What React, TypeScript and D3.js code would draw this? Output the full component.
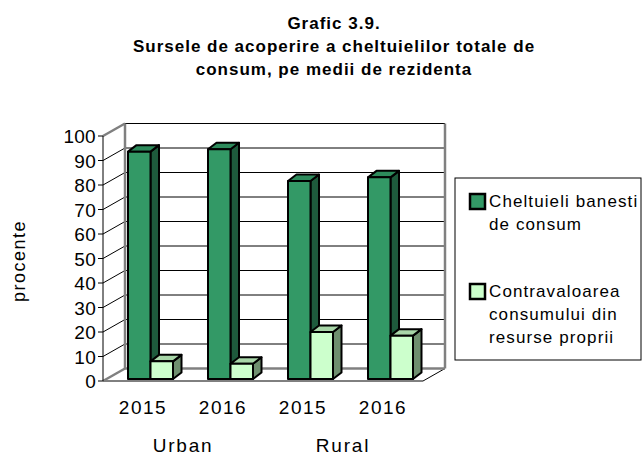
import React from "react";
import * as d3 from "d3";

const categories = ["2015", "2016", "2015", "2016"];
const groups = ["Urban", "Rural"];
const seriesNames = ["Cheltuieli banesti de consum", "Contravaloarea consumului din resurse proprii"];
const cheltuieli = [92.8, 93.8, 80.8, 82.3];
const contravaloare = [7.2, 6.2, 19.2, 17.7];
const yTicks = [0, 10, 20, 30, 40, 50, 60, 70, 80, 90, 100];
const titleLines = ["Grafic 3.9.", "Sursele de acoperire a cheltuielilor totale de", "consum, pe medii de rezidenta"];
const legendLines = [["Cheltuieli banesti", "de consum"], ["Contravaloarea", "consumului din", "resurse proprii"]];

const W = 643, H = 457;
const FONT = "'Liberation Sans', Arial, sans-serif";

export default function App() {
  const y = d3.scaleLinear().domain([0, 100]).range([381, 136]);
  const x = d3.scaleBand<number>().domain(categories.map((_, i) => i)).range([103, 423]);
  const sx = d3.scaleBand<number>().domain([0, 1]).range([21, 66]);
  const wallD = { dx: 22, dy: -12.5 };
  const barOff = { dx: 4, dy: -2 };
  const barD = { dx: 8.5, dy: -6.5 };
  const x0 = x.range()[0], x1 = x.range()[1];
  const yb = y(0), yt = y(100);

  const fills = [
    { front: "#339966", top: "#2d8a5b", side: "#1e5a3c" },
    { front: "#ccffcc", top: "#a8d6a8", side: "#6f8f6f" },
  ];
  const values = [cheltuieli, contravaloare];

  const bars: React.ReactNode[] = [];
  categories.forEach((_, i) => {
    [0, 1].forEach((s) => {
      const left = (x(i) as number) + (sx(s) as number) + barOff.dx;
      const w = sx.bandwidth();
      const top = y(values[s][i]) + barOff.dy;
      const bottom = yb + barOff.dy;
      const f = fills[s];
      const p = (pts: number[][]) => pts.map((q) => q.join(",")).join(" ");
      bars.push(
        <g key={`b${i}-${s}`} stroke="#000" strokeWidth={2} strokeLinejoin="round">
          <polygon points={p([[left + w, top], [left + w + barD.dx, top + barD.dy], [left + w + barD.dx, bottom + barD.dy], [left + w, bottom]])} fill={f.side} />
          <polygon points={p([[left, top], [left + barD.dx, top + barD.dy], [left + w + barD.dx, top + barD.dy], [left + w, top]])} fill={f.top} />
          <rect x={left} y={top} width={w} height={bottom - top} fill={f.front} />
        </g>
      );
    });
  });

  return (
    <svg width={W} height={H} style={{ position: "absolute", left: 0, top: 0, background: "#fff" }} fontFamily={FONT}>
      <rect width={W} height={H} fill="#fff" />
      {titleLines.map((t, i) => (
        <text key={t} x={334} y={29 + i * 23} textAnchor="middle" fontWeight="bold" fontSize={17} letterSpacing={1}>{t}</text>
      ))}
      {/* walls */}
      <polygon points={`${x0},${yb} ${x0},${yt} ${x0 + wallD.dx},${yt + wallD.dy} ${x0 + wallD.dx},${yb + wallD.dy}`} fill="#fff" />
      <rect x={x0 + wallD.dx} y={yt + wallD.dy} width={x1 - x0} height={yb - yt} fill="#fff" />
      {/* floor */}
      <polygon points={`${x0},${yb} ${x1},${yb} ${x1 + wallD.dx},${yb + wallD.dy} ${x0 + wallD.dx},${yb + wallD.dy}`} fill="#fff" stroke="#000" strokeWidth={1} />
      {/* gridlines */}
      {yTicks.filter((v) => v > 0).map((v) => (
        <g key={`g${v}`} stroke="#000" strokeWidth={1}>
          <line x1={x0} y1={y(v)} x2={x0 + wallD.dx} y2={y(v) + wallD.dy} />
          <line x1={x0 + wallD.dx} y1={y(v) + wallD.dy} x2={x1 + wallD.dx} y2={y(v) + wallD.dy} />
        </g>
      ))}
      {/* wall borders */}
      <g stroke="#808080" strokeWidth={2.5} fill="none">
        <line x1={x0} y1={yt} x2={x0 + wallD.dx} y2={yt + wallD.dy} />
        <line x1={x0} y1={yb} x2={x0 + wallD.dx} y2={yb + wallD.dy} />
        <line x1={x0 + wallD.dx} y1={yt + wallD.dy} x2={x0 + wallD.dx} y2={yb + wallD.dy} />
        <line x1={x1 + wallD.dx} y1={yt + wallD.dy} x2={x1 + wallD.dx} y2={yb + wallD.dy} />
        <line x1={x0 + wallD.dx} y1={yb + wallD.dy} x2={x1 + wallD.dx} y2={yb + wallD.dy} />
      </g>
      {/* axis */}
      <line x1={x0} y1={yt} x2={x0} y2={yb} stroke="#000" strokeWidth={1} />
      {yTicks.map((v) => (
        <g key={`t${v}`}>
          <line x1={x0 - 5} x2={x0} y1={y(v)} y2={y(v)} stroke="#000" />
          <text x={x0 - 7} y={y(v) + 7} textAnchor="end" fontSize={19} letterSpacing={0.3}>{v}</text>
        </g>
      ))}
      {bars}
      {categories.map((c, i) => (
        <text key={`c${i}`} x={(x(i) as number) + x.bandwidth() / 2} y={414} textAnchor="middle" fontSize={19} letterSpacing={1.5}>{c}</text>
      ))}
      {groups.map((g, gi) => (
        <text key={g} x={(x(gi * 2) as number) + x.bandwidth()} y={452} textAnchor="middle" fontSize={19} letterSpacing={1.8}>{g}</text>
      ))}
      <text transform="translate(25,261) rotate(-90)" textAnchor="middle" fontSize={18} letterSpacing={1.5}>procente</text>
      {/* legend */}
      <rect x={455} y={178} width={186} height={182} fill="#fff" stroke="#000" strokeWidth={1} />
      {legendLines.map((lines, s) => (
        <g key={`l${s}`}>
          <rect x={470} y={s === 0 ? 194 : 284} width={15} height={15} fill={fills[s].front} stroke="#000" strokeWidth={2.5} />
          {lines.map((ln, j) => (
            <text key={ln} x={489} y={(s === 0 ? 206.5 : 297) + j * 23} fontSize={17} letterSpacing={1.1}>{ln}</text>
          ))}
        </g>
      ))}
    </svg>
  );
}
